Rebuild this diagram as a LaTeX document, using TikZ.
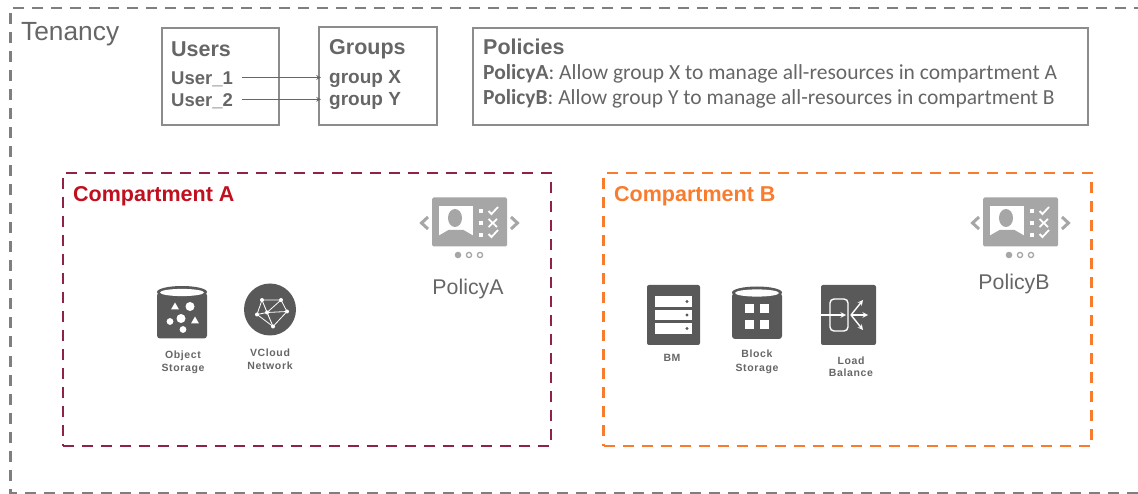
\documentclass[tikz,border=0pt]{standalone}
\usepackage{fontspec}
\setmainfont{Liberation Sans}
\newfontfamily\bodyfont{Carlito}
\newfontfamily\iconfont[LetterSpace=6]{Liberation Sans}
\definecolor{textgray}{HTML}{666666}
\definecolor{framegray}{HTML}{7F7F7F}
\definecolor{boxgray}{HTML}{8C8C8C}
\definecolor{icondark}{HTML}{595959}
\definecolor{iconlight}{HTML}{A6A6A6}
\definecolor{redframe}{HTML}{8E2347}
\definecolor{redtext}{HTML}{C00F1F}
\definecolor{orangeframe}{HTML}{F97B2E}
\tikzset{
  infobox/.style={draw=boxgray,line width=1.4pt,inner sep=0pt},
  compartment/.style={dashed,dash pattern=on 11pt off 8pt,line width=2.3pt,inner sep=0pt,minimum width=488pt,minimum height=273pt},
  title/.style={font=\bfseries\fontsize{21.5}{24}\selectfont,text=textgray,inner sep=0pt,anchor=west,text height=15pt,text depth=5pt},
  userrow/.style={font=\bfseries\fontsize{18.5}{20}\selectfont,text=textgray,inner sep=0pt,anchor=west,text height=15pt,text depth=0pt},
  grouprow/.style={font=\bfseries\fontsize{19}{20}\selectfont,text=textgray,inner sep=0pt,anchor=west,text height=11.6pt,text depth=0pt},
  policyline/.style={font=\bodyfont\fontsize{21.5}{24}\selectfont,text=textgray,inner sep=0pt,anchor=west,text height=14pt,text depth=0pt},
  iconlabel/.style={font=\iconfont\bfseries\fontsize{10.5}{12}\selectfont,text=textgray,inner sep=0pt,text height=8pt,text depth=0pt},
  link/.style={draw=textgray,line width=1.1pt,-stealth},
  policyicon/.pic={code={%
      % panel with arrows and dots
      \fill [iconlight,rounded corners=1.5pt] (-37.5,-24.5) rectangle (37.5,24.5);
      \draw [iconlight,line width=3pt] (-41.5,-5) -- (-48,1) -- (-41.5,7);
      \draw [iconlight,line width=3pt] (41.5,-5) -- (48,1) -- (41.5,7);
      \fill [iconlight] (-11.5,33) circle (3.3);
      \draw [iconlight,line width=1.3pt] (-0.5,33) circle (2.6);
      \draw [iconlight,line width=1.3pt] (10.5,33) circle (2.6);
      % portrait
      \fill [white] (-30.5,-16) rectangle (3.5,15);
      \fill [iconlight] (-14.5,-4) ellipse (7 and 9);
      \fill [iconlight] (-30.5,13.5) -- (-21,8) -- (-6,8) -- (3.5,13.5) -- (3.5,15.5) -- (-30.5,15.5) -- cycle;
      % check list
      \foreach \y in {-11,1,13} \fill [white] (9.5,\y-2) rectangle (13.5,\y+2);
      \draw [white,line width=1.8pt] (19,-11) -- (22,-8) -- (28.5,-15);
      \draw [white,line width=1.8pt] (19,-3) -- (27.5,5) (27.5,-3) -- (19,5);
      \draw [white,line width=1.8pt] (19,12) -- (22,15) -- (28.5,8);
  }},
  cylinder icon/.pic={code={%
      \fill [icondark] (0,-20.5) ellipse (25 and 6);
      \fill [icondark,rounded corners=3pt] (-25,-20) rectangle (25,26);
      \fill [white] (0,-20) ellipse (22 and 3.6);
  }},
}

\begin{document}
\begin{tikzpicture}[x=1pt,y=-1pt]
    \useasboundingbox (0,0) rectangle (1138,494);

    % tenancy frame, open on the right
    \draw [framegray,line width=2.5pt,dash pattern=on 11pt off 8pt] (1145,8) -- (10.5,8) -- (10.5,493) -- (1145,493);
    \node [font=\fontsize{26.3}{28}\selectfont,text=textgray,inner sep=0pt,anchor=west] (tenancy) at (21,34) {Tenancy};

    % top boxes
    \node [infobox,minimum width=117pt,minimum height=97pt] (usersbox) at (220.5,76.5) {};
    \node [infobox,minimum width=118pt,minimum height=98pt] (groupsbox) at (378,76) {};
    \node [infobox,minimum width=615pt,minimum height=97pt] (policiesbox) at (780.5,76.5) {};

    \node [title] (users) at (171,52) {Users};
    \node [userrow] (user1) at (171,77.5) {User\_1};
    \node [userrow] (user2) at (171,99.3) {User\_2};
    \node [title] (groups) at (329,50) {Groups};
    \node [grouprow] (groupx) at (329,77.5) {group X};
    \node [grouprow] (groupy) at (329,99.3) {group Y};
    \draw [link,shorten <=9pt,shorten >=8pt] (user1) -- (groupx);
    \draw [link,shorten <=9pt,shorten >=8pt] (user2) -- (groupy);

    \node [title] (policies) at (483,50) {Policies};
    \node [policyline] (policya) at (483,72.3) {\textbf{PolicyA}: Allow group X to manage all-resources in compartment A};
    \node [policyline] (policyb) at (483,97.3) {\textbf{PolicyB}: Allow group Y to manage all-resources in compartment B};

    % compartment A
    \node [compartment,draw=redframe] (compa) at (307,309.5) {};
    \node [title,text=redtext] (compatitle) at (73,197) {Compartment A};
    \path (469.5,222) pic {policyicon};
    \node [font=\fontsize{21.3}{24}\selectfont,text=textgray,inner sep=0pt] (policyalabel) at (468,289) {PolicyA};

    \path (182,312.5) pic {cylinder icon};
    \foreach \x/\y/\r in {8/-6/4.5,-1/6/4.5,-12/9/3.4,1/17/3.4} \fill [white] (182+\x,312.5+\y) circle (\r);
    \foreach \x/\y in {-7/-6,13/8} \fill [white] (182+\x-4,312.5+\y+3) -- (182+\x+4,312.5+\y+3) -- (182+\x,312.5+\y-4) -- cycle;
    \node [iconlabel] (objecta) at (183,354.3) {Object};
    \node [iconlabel] (objectb) at (183,367) {Storage};

    \fill [icondark] (270,309.5) circle (26);
    \begin{scope}[shift={(270,309.5)},white,line width=0.8pt]
      \draw (-8,-9.5) -- (11,-9.5) -- (17,2) -- (3,17) -- (-13,5) -- cycle;
      \draw (-8,-9.5) -- (-3,3) -- (11,-9.5) (-13,5) -- (-3,3) -- (17,2) (-3,3) -- (3,17) (-8,-9.5) -- (3,17);
      \foreach \x/\y in {-8/-9.5,11/-9.5,17/2,3/17,-13/5,-3/3} \fill (\x,\y) circle (2);
    \end{scope}
    \node [iconlabel] (vclouda) at (270,352.7) {VCloud};
    \node [iconlabel] (vcloudb) at (270,365) {Network};

    % compartment B
    \node [compartment,draw=orangeframe] (compb) at (847.5,309.5) {};
    \node [title,text=orangeframe] (compbtitle) at (614,197) {Compartment B};
    \path (1020.5,222) pic {policyicon};
    \node [font=\fontsize{21.3}{24}\selectfont,text=textgray,inner sep=0pt] (policyblabel) at (1014,284) {PolicyB};

    \fill [icondark,rounded corners=2pt] (647,285) rectangle (700,345);
    \foreach \a/\b in {296/307,310/320,323/334} {
      \fill [white] (655,\a) rectangle (692,\b);
      \fill [icondark] (687,{(\a+\b)/2}) circle (1.6);
    }
    \node [iconlabel] (bm) at (672,357) {BM};

    \path (757,313) pic {cylinder icon};
    \foreach \x in {745,760} \foreach \y in {304,320} \fill [white] (\x,\y) rectangle +(9,9);
    \node [iconlabel] (blocka) at (757,354) {Block};
    \node [iconlabel] (blockb) at (757,367.7) {Storage};

    \fill [icondark,rounded corners=2pt] (821,285) rectangle (876,345);
    \begin{scope}[shift={(848,315)},white,line width=1.4pt]
      \draw [rounded corners=4pt] (-18,-16) rectangle (0,16);
      \draw [-stealth] (-27,0) -- (-2,0);
      \draw [-stealth] (3,0) -- (15,-15);
      \draw [-stealth] (3,0) -- (20,0);
      \draw [-stealth] (3,0) -- (15,15);
    \end{scope}
    \node [iconlabel] (loada) at (851,360) {Load};
    \node [iconlabel] (loadb) at (851,372.7) {Balance};
\end{tikzpicture}
\end{document}
